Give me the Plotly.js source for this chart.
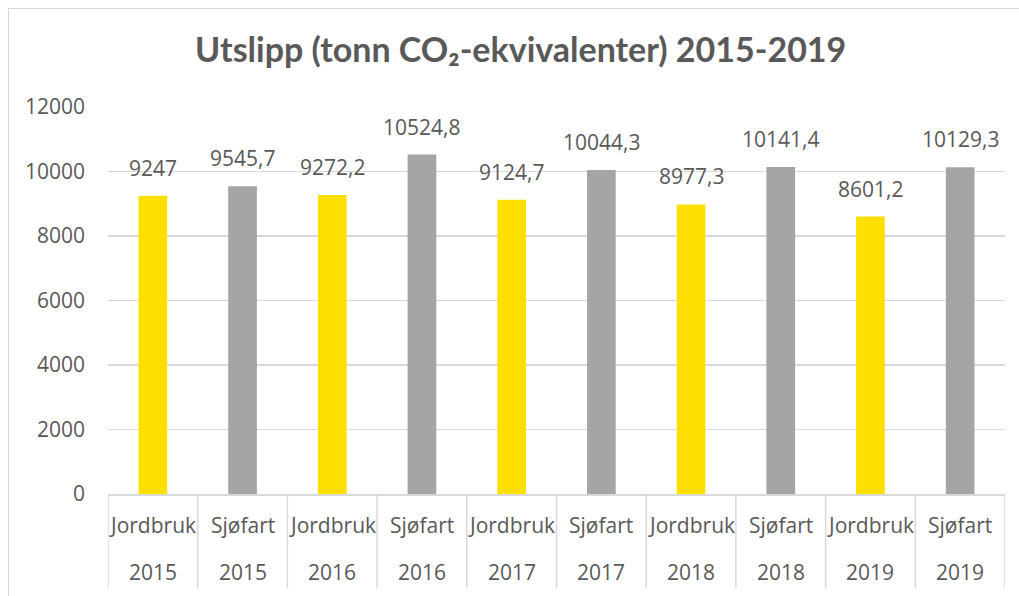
<!DOCTYPE html>
<html><head><meta charset="utf-8">
<script src="https://cdn.plot.ly/plotly-3.0.1.min.js"></script>
<style>
html,body{margin:0;padding:0;background:#fff;}
#wrap{position:relative;width:1019px;height:596px;overflow:hidden;}
#chart{width:1019px;height:596px;}
#frame{position:absolute;left:8px;top:8px;width:1020px;height:600px;border:1px solid #D9D9D9;pointer-events:none;}
</style></head>
<body><div id="wrap"><div id="chart"></div><div id="frame"></div></div>
<script>
const sectors = ["Jordbruk","Sjøfart","Jordbruk","Sjøfart","Jordbruk","Sjøfart","Jordbruk","Sjøfart","Jordbruk","Sjøfart"];
const years = ["2015","2015","2016","2016","2017","2017","2018","2018","2019","2019"];
const values = [9247, 9545.7, 9272.2, 10524.8, 9124.7, 10044.3, 8977.3, 10141.4, 8601.2, 10129.3];
const colorBySector = {"Jordbruk":"#FFDF00","Sjøfart":"#A5A5A5"};
const yTicks = [0,2000,4000,6000,8000,10000,12000];

const idx = values.map((v,i)=>i);
const labels = values.map(v=>String(v).replace('.', ','));
const font = '"Open Sans", "Noto Sans", sans-serif';
const titleFont = '"Lato", "Open Sans", sans-serif';
const txtColor = '#595959';

const trace = {
  type:'bar', x: idx, y: values,
  marker:{color: sectors.map(s=>colorBySector[s])},
  hoverinfo:'none', width:0.32
};

const annotations = [];
idx.forEach(i=>{
  annotations.push({x:i, y:values[i], xref:'x', yref:'y', text:labels[i], showarrow:false,
    yanchor:'bottom', yshift:12, font:{family:font,size:21,color:txtColor}});
  annotations.push({x:i, y:-0.080, xref:'x', yref:'paper', text:sectors[i], showarrow:false,
    yanchor:'middle', font:{family:font,size:21,color:txtColor}});
  annotations.push({x:i, y:-0.202, xref:'x', yref:'paper', text:years[i], showarrow:false,
    yanchor:'middle', font:{family:font,size:21,color:txtColor}});
});
const shapes = [];
for(let k=0;k<=idx.length;k++){
  shapes.push({type:'line', xref:'x', yref:'paper', x0:k-0.5, x1:k-0.5, y0:0, y1:-0.243,
    line:{color:'#D9D9D9', width:1.5}});
}

const layout = {
  width:1019, height:596,
  margin:{l:108, r:14, t:107, b:102},
  paper_bgcolor:'#fff', plot_bgcolor:'#fff',
  showlegend:false,
  title:{text:'Utslipp (tonn CO₂-ekvivalenter) 2015-2019', x:0.511, xanchor:'center', y:0.916, yanchor:'middle',
    font:{family:titleFont, size:34, color:txtColor, weight:'bold'}},
  xaxis:{range:[-0.5,9.5], showticklabels:false, showgrid:false, zeroline:false,
    tickvals:idx, ticks:'', showline:true, linecolor:'#D9D9D9', linewidth:1.5, fixedrange:true},
  yaxis:{range:[0,12000], tickvals:yTicks, ticktext:yTicks.map(String), showgrid:true, gridcolor:'#D9D9D9', gridwidth:1.5,
    zeroline:false, showline:false, ticks:'', ticklabelstandoff:22,
    tickfont:{family:font, size:21, color:txtColor}, fixedrange:true},
  annotations: annotations,
  shapes: shapes
};
Plotly.newPlot('chart',[trace],layout,{displayModeBar:false, staticPlot:true});
</script></body></html>
